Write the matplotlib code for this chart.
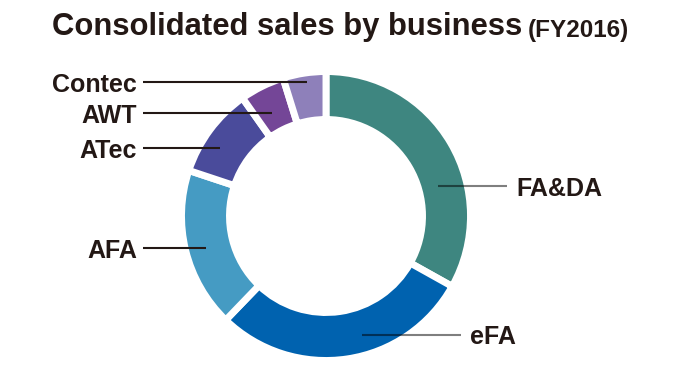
import numpy as np
import matplotlib
matplotlib.use("Agg")
import matplotlib.pyplot as plt

# ---- data ----
segments = ["FA&DA", "eFA", "AFA", "ATec", "AWT", "Contec"]
shares = [33.1, 29.1, 17.9, 10.1, 5.0, 4.8]
title_main = "Consolidated sales by business"
title_sub = "(FY2016)"

# ---- style ----
colors = ["#3E8680", "#0062AF", "#459BC3", "#4A4B9B", "#744697", "#8E80BA"]
txt_color = "#231815"
# per label: (side, fraction along wedge clockwise, anchor radius, outer line x)
label_style = {
    "FA&DA": ("right", 0.63, 116, 507),
    "eFA": ("right", 0.42, 124, 461),
    "AFA": ("left", 0.48, 124, 143),
    "ATec": ("left", 0.39, 126, 143),
    "AWT": ("left", 0.42, 116, 143),
    "Contec": ("left", 0.535, 135, 143),
}

plt.rcParams["font.family"] = ["Liberation Sans", "DejaVu Sans"]

W, H = 678, 382
fig = plt.figure(figsize=(W / 100, H / 100), dpi=100)
ax = fig.add_axes([0, 0, 1, 1])

cx, cy = 326, H - 216
R, ring = 144.5, 48
wedges, _ = ax.pie(shares, colors=colors, startangle=90, counterclock=False,
                   radius=R, center=(cx, cy), frame=True,
                   wedgeprops=dict(width=ring, edgecolor="white", linewidth=5))
ax.set_xlim(0, W)
ax.set_ylim(0, H)
ax.set_aspect("equal")
ax.axis("off")

for w, name in zip(wedges, segments):
    side, frac, rr, xo = label_style[name]
    ang = np.deg2rad(w.theta2 - frac * (w.theta2 - w.theta1))
    ax_x = cx + rr * np.cos(ang)
    ax_y = cy + rr * np.sin(ang)
    if side == "left":
        ax.plot([xo, ax_x], [ax_y, ax_y], color=txt_color, lw=1.5,
                solid_capstyle="butt", zorder=5)
        ax.text(xo - 6, ax_y, name, ha="right", va="center_baseline",
                fontsize=18, fontweight="bold", color=txt_color)
    else:
        ax.plot([ax_x, xo], [ax_y, ax_y], color="black", alpha=0.5, lw=1.5,
                solid_capstyle="butt", zorder=5)
        ax.text(xo + 9, ax_y, name, ha="left", va="center_baseline",
                fontsize=18, fontweight="bold", color=txt_color)

t1 = ax.text(52, H - 35, title_main, ha="left", va="baseline",
             fontsize=22.3, fontweight="bold", color=txt_color)
ax.annotate(title_sub, xy=(1, 0), xycoords=t1, xytext=(4, 0),
            textcoords="offset points", ha="left", va="bottom",
            fontsize=17.5, fontweight="bold", color=txt_color)

fig.savefig("out.png", dpi=100)
